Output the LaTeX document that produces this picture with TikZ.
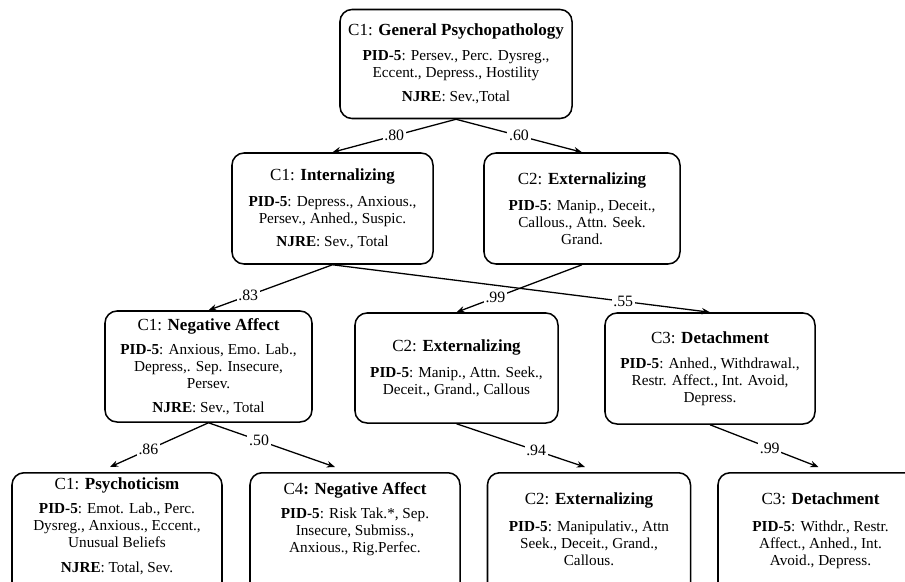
\documentclass[tikz,border=0pt]{standalone}
\usepackage{fontspec}
\setmainfont{Liberation Serif}
\usetikzlibrary{arrows.meta}

\newcommand{\pid}{\textbf{PID-5}}
\newcommand{\njre}{\textbf{NJRE}}
\newcommand{\ttl}[2]{{\fontsize{14.5}{16}\selectfont #1: \textbf{#2}}}

\tikzset{
  factor/.style 2 args={draw, line width=1.3pt, rounded corners=0.36cm, align=center, inner sep=0pt,
    minimum width=#1cm, minimum height=#2cm, font=\fontsize{13}{14.5}\selectfont},
  load/.style={-{Stealth[length=7pt,width=5.5pt]}, line width=1.1pt},
  wt/.style={fill=white, inner sep=1.5pt, font=\fontsize{13.5}{15}\selectfont}
}

\begin{document}
\begin{tikzpicture}[x=0.03cm, y=-0.03cm]
    \useasboundingbox (0,0) rectangle (905,581);
    \clip (0,0) rectangle (905,581);
    % top
    \node[factor={6.96}{3.27}] (gp) at (456,64) {\ttl{C1}{General Psychopathology}\\[7pt]
        \pid: Persev., Perc. Dysreg.,\\ Eccent., Depress., Hostility\\[6pt] \njre: Sev.,Total};
    % second level
    \node[factor={6.03}{3.33}] (int) at (332.5,208.5) {\ttl{C1}{Internalizing}\\[8pt]
        \pid: Depress., Anxious.,\\ Persev., Anhed., Suspic.\\[5pt] \njre: Sev., Total};
    \node[factor={5.88}{3.33}] (ext1) at (582,208.5) {\ttl{C2}{Externalizing}\\[8pt]
        \pid: Manip., Deceit.,\\ Callous., Attn. Seek.\\ Grand.};
    % third level
    \node[factor={6.21}{3.33}] (na) at (208.5,366.5) {\ttl{C1}{Negative Affect}\\[6pt]
        \pid: Anxious, Emo. Lab.,\\ Depress,. Sep. Insecure,\\ Persev.\\[6pt] \njre: Sev., Total};
    \node[factor={6.09}{3.3}] (ext2) at (456.5,368) {\ttl{C2}{Externalizing}\\[8pt]
        \pid: Manip., Attn. Seek.,\\ Deceit., Grand., Callous};
    \node[factor={6.3}{3.33}] (det1) at (710,368.5) {\ttl{C3}{Detachment}\\[7pt]
        \pid: Anhed., Withdrawal.,\\ Restr. Affect., Int. Avoid,\\ Depress.};
    % fourth level (runs off the page)
    \node[factor={6.3}{3.9}, anchor=north, text depth=22pt] (psy) at (117,472) {\ttl{C1}{Psychoticism}\\[6pt]
        \pid: Emot. Lab., Perc.\\ Dysreg., Anxious., Eccent.,\\ Unusual Beliefs\\[7pt] \njre: Total, Sev.};
    \node[factor={6.3}{3.9}, anchor=north, text depth=34pt] (na4) at (355,472) {{\fontsize{14.5}{16}\selectfont C4\textbf{: Negative Affect}}\\[6pt]
        \pid: Risk Tak.*, Sep.\\ Insecure, Submiss.,\\ Anxious., Rig.Perfec.};
    \node[factor={6.09}{3.9}, anchor=north, text depth=15pt] (ext3) at (589,472) {\ttl{C2}{Externalizing}\\[8pt]
        \pid: Manipulativ., Attn\\ Seek., Deceit., Grand.,\\ Callous.};
    \node[factor={6.15}{3.9}, anchor=north, text depth=15pt] (det2) at (820.5,472) {\ttl{C3}{Detachment}\\[8pt]
        \pid: Withdr., Restr.\\ Affect., Anhed., Int.\\ Avoid., Depress.};

    \coordinate (psy-in) at ([shift={(-7,-5)}]psy.north);
    \coordinate (na4-in) at ([shift={(-20,-5)}]na4.north);
    \coordinate (ext3-in) at ([shift={(-4,-5)}]ext3.north);
    \coordinate (det2-in) at ([shift={(-2,-5)}]det2.north);

    \foreach \s/\t/\w/\p in {gp/int.north/.80/0.5, gp/ext1.north/.60/0.5, int/na.north/.83/0.68,
        int/det1.north/.55/0.77, ext1/ext2.north/.99/0.69, na/psy-in/.86/0.61, na/na4-in/.50/0.4,
        ext2/ext3-in/.94/0.62, det1/det2-in/.99/0.55}{
        \draw[load] (\s.south) -- node[wt, pos=\p] {\w} (\t);
    }
\end{tikzpicture}
\end{document}
